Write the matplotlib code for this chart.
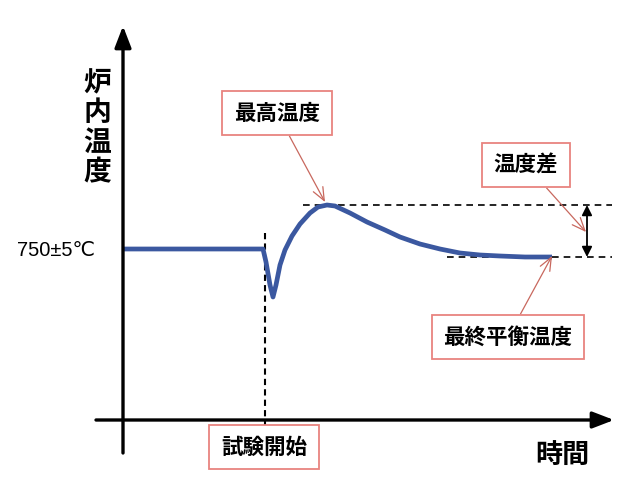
import matplotlib.pyplot as plt

plt.rcParams['font.family'] = ['Noto Sans CJK JP', 'DejaVu Sans']

# furnace temperature curve (x = time, y = temperature, drawn in picture units, y grows downward)
time_pts = [124, 263, 266, 270, 273, 276, 280, 285, 292, 300, 310, 318, 327,
            335, 350, 367, 385, 400, 420, 440, 460, 480, 500, 525, 552]
temp_pts = [249, 249, 262, 285, 297, 285, 265, 250, 236, 224, 213, 207, 205,
            206, 213, 222, 230, 237, 244, 249, 253, 255, 256, 257, 257]

start_time = 265
peak_temp = 205
final_temp = 257
peak_time = 327
final_time = 552

y_label = "炉\n内\n温\n度"
x_label = "時間"
set_label = "750±5℃"
box_labels = ["最高温度", "温度差", "最終平衡温度", "試験開始"]


def main():
    fig = plt.figure(figsize=(6.17, 4.78), dpi=100)
    ax = fig.add_axes([0, 0, 1, 1])
    ax.set_xlim(0, 617)
    ax.set_ylim(478, 0)
    ax.axis('off')

    # axes with arrows
    ax.annotate("", xy=(123, 26), xytext=(123, 453),
                arrowprops=dict(arrowstyle='-|>,head_length=1.3,head_width=0.5',
                                color='black', lw=2.4, shrinkA=0, shrinkB=0))
    ax.annotate("", xy=(614, 420), xytext=(96, 420),
                arrowprops=dict(arrowstyle='-|>,head_length=1.3,head_width=0.5',
                                color='black', lw=2.4, shrinkA=0, shrinkB=0))

    # guide lines
    ax.plot([start_time, start_time], [233, 427], color='black', lw=1.5,
            linestyle=(0, (3, 2)))
    ax.plot([303, 612], [peak_temp, peak_temp], color='black', lw=1.2,
            linestyle=(0, (4, 3)))
    ax.plot([447, 612], [final_temp, final_temp], color='black', lw=1.2,
            linestyle=(0, (4, 3)))
    ax.annotate("", xy=(587, peak_temp), xytext=(587, final_temp),
                arrowprops=dict(arrowstyle='<|-|>,head_length=0.6,head_width=0.3',
                                color='black', lw=1.3, shrinkA=0, shrinkB=0))

    # temperature curve
    ax.plot(time_pts, temp_pts, color='#3b58a0', lw=3.4, solid_capstyle='butt',
            solid_joinstyle='round')

    # labels
    ax.text(97, 128, y_label, fontsize=20, weight='bold', ha='center',
            va='center', linespacing=1.08)
    ax.text(562, 455, x_label, fontsize=19.5, weight='bold', ha='center',
            va='center')
    ax.text(56, 250, set_label, fontsize=14.5, ha='center', va='center',
            family=['Liberation Sans', 'DejaVu Sans'])

    box = dict(boxstyle='square,pad=0.55', fc='white', ec='#e8847f', lw=1.3)
    arrow = dict(arrowstyle='->,head_length=0.6,head_width=0.25',
                 color='#c8685e', lw=0.9, shrinkA=0, shrinkB=0)

    fs = 15.5
    ax.annotate(box_labels[0], xy=(peak_time - 2, peak_temp - 3),
                xytext=(277, 113), fontsize=fs, weight='bold', ha='center',
                va='center', bbox=box, arrowprops=arrow)
    ax.annotate(box_labels[1], xy=(586, 232), xytext=(526, 165),
                fontsize=fs, weight='bold', ha='center', va='center',
                bbox=box, arrowprops=arrow)
    ax.annotate(box_labels[2], xy=(final_time, final_temp - 1),
                xytext=(508, 337), fontsize=fs, weight='bold', ha='center',
                va='center', bbox=box, arrowprops=arrow)
    ax.text(264, 447, box_labels[3], fontsize=fs, weight='bold',
            ha='center', va='center', bbox=box)

    fig.savefig("out.png", dpi=100, facecolor='white')


if __name__ == "__main__":
    main()
